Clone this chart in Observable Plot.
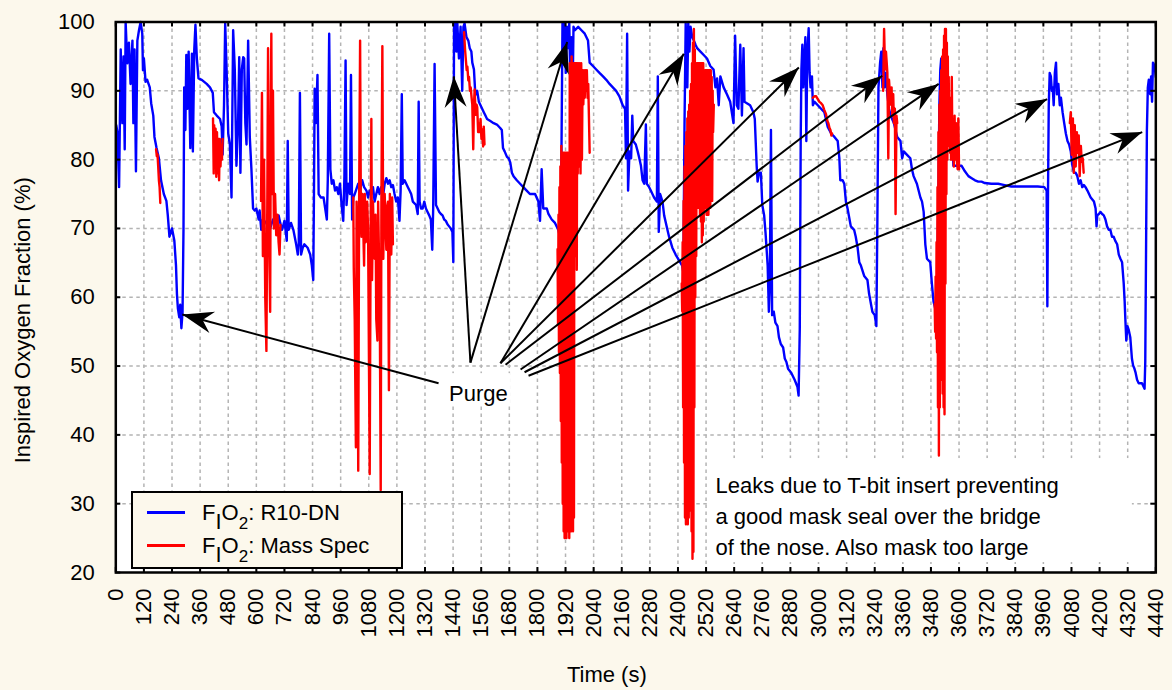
<!DOCTYPE html>
<html><head><meta charset="utf-8">
<script src="https://cdn.jsdelivr.net/npm/d3@7"></script>
<script src="https://cdn.jsdelivr.net/npm/@observablehq/plot@0.6"></script>
<style>
html,body{margin:0;padding:0;background:#FCF8EC;}
#wrap{position:relative;width:1172px;height:690px;font-family:"Liberation Sans",Arial,sans-serif;color:#000;}
#wrap svg{display:block;}
#legend{position:absolute;left:131px;top:491px;width:268px;height:74px;border:2px solid #000;background:#FCF8EC;}
.lline{position:absolute;left:14px;width:38px;height:3px;}
.ltext{position:absolute;left:69px;font-size:22px;line-height:22px;white-space:nowrap;}
.sub{position:relative;top:9px;}
.sub2{position:relative;top:9px;font-size:17px;}
</style></head>
<body><div id="wrap"></div>
<script>
// ---------- data ----------
const xTickValues = [0,120,240,360,480,600,720,840,960,1080,1200,1320,1440,1560,1680,1800,1920,2040,2160,2280,2400,2520,2640,2760,2880,3000,3120,3240,3360,3480,3600,3720,3840,3960,4080,4200,4320,4440];
const yTickValues = [20,30,40,50,60,70,80,90,100];

// FIO2 R10-DN : [time (s), FIO2 (%)]
const r10Series = [
[2,85],[7,84],[14,76],[21,96],[28,85.3],[33,95],[38,81.5],[42,100],[49,94],[56,97],[63,91],[71,97.3],[75,85.3],[80,96],[86,78.3],[92,97.3],[99,98.8],[106,100],[113,98.3],[116,93],[120,94.7],[127,91.3],[134,91.6],[145,90.5],[151,88.2],[160,86.4],[165,83.3],[174,81.7],[184,80.2],[193,77],[205,75],[216,74],[222,71.9],[229,68.8],[240,70],[250,68.2],[257,64.6],[261,60.5],[265,58.4],[271,57.1],[275,58.9],[280,55.5],[285,57.9],[289,69.8],[292,90.5],[297,84.3],[301,95.2],[306,87.4],[311,95.7],[318,81.7],[325,95.4],[329,81.2],[335,96],[340,99.6],[346,94.7],[353,91.8],[367,91.6],[388,91],[402,90.5],[414,89.7],[419,86.9],[431,86.4],[445,85.9],[452,84.8],[456,80.7],[462,87.9],[467,99.8],[473,93.1],[480,83.8],[487,82.2],[494,74.5],[501,98.8],[508,93.1],[515,79.1],[522,85.3],[527,94.9],[532,78.1],[538,93.1],[544,94.9],[548,94.7],[553,85.3],[558,82.2],[565,97.3],[572,83.3],[579,78.6],[586,72.9],[593,72.6],[600,72.9],[610,71.3],[614,72.6],[621,69.8],[628,71.3],[642,70.8],[657,69.8],[671,71.3],[685,70.3],[695,71.9],[702,70.8],[710,69.8],[720,71.1],[730,68.2],[734,82.7],[738,69.8],[748,70.8],[758,69.8],[770,67.7],[777,66.2],[781,67.7],[786,89.7],[791,66.2],[798,67.2],[805,67.7],[819,67.2],[830,66.2],[837,64.6],[843,62.5],[846,75],[849,90.3],[854,85.3],[861,92.3],[866,75],[875,74.5],
[887,74.5],[901,71.3],[905,77],[911,98.3],[916,78.6],[922,76.5],[929,77],[936,75.5],[943,76],[950,75],[957,76.5],[964,73.4],[971,71.1],[976,77.6],[981,94.4],[985,73.4],[992,76.5],[1000,75],[1004,92.3],[1009,71.3],[1014,74.5],[1020,75],[1035,76.5],[1042,75.5],[1052,77],[1060,76],[1070,75.5],[1077,74.5],[1084,75.5],[1091,75],[1098,76],[1105,73.9],[1112,75],[1119,76],[1126,75],[1133,76],[1140,74.5],[1148,76.5],[1155,77.3],[1162,76.5],[1169,77],[1176,76],[1183,76.3],[1190,75],[1197,73.9],[1204,74.5],[1211,71.1],[1216,75.5],[1221,89.5],[1225,76.5],[1233,77],[1240,76.5],[1247,76],[1254,75.5],[1261,75],[1268,73.9],[1282,73.4],[1289,72.1],[1293,88.4],[1297,73.9],[1303,72.9],[1310,72.9],[1317,73.9],[1324,72.9],[1331,72.4],[1338,71.9],[1345,71.3],[1351,66.9],[1355,72.9],[1361,93.9],[1367,73.4],[1374,72.9],[1381,72.4],[1388,72.1],[1395,71.9],[1402,71.3],[1409,71.1],[1416,70.6],[1423,70.3],[1430,70],[1437,69.5],[1441,65.1],[1444,99.3],[1448,99.8],[1454,95.7],[1458,99.8],[1465,94.7],[1472,99.3],[1479,90],[1484,99.3],[1489,99.8],[1497,97.8],[1505,97.3],[1511,96.2],[1518,95.7],[1522,94.1],[1529,93.1],[1534,90],[1539,89.5],[1543,90],[1550,88.4],[1557,87.9],[1564,87.4],[1571,86.9],[1578,86.4],[1585,85.9],[1599,85.6],[1613,85.3],[1627,85.1],[1641,84.6],[1648,84.3],[1653,81.7],[1660,81.2],[1670,80.4],[1677,80.2],[1684,79.6],[1691,78.1],[1698,77.6],[1712,77],[1726,76.5],[1740,76],[1754,75.5],[1768,75],
[1790,75],[1804,73.9],[1811,71.1],[1818,78.6],[1825,72.9],[1840,72.9],[1847,72.1],[1861,71.3],[1875,70.8],[1889,69.8],[1896,68.8],[1900,67.7],[1903,82.7],[1907,99.8],[1912,95.2],[1917,99.8],[1921,92.6],[1926,99.3],[1931,96.2],[1936,99.8],[1940,92.1],[1945,97.8],[1950,89],[1954,99.3],[1960,98.8],[1974,99.3],[1988,98.8],[2002,98.3],[2016,97.3],[2023,94.1],[2037,93.6],[2051,93.1],[2065,92.6],[2080,92.1],[2094,91.6],[2108,91],[2122,90.5],[2136,90],[2150,89.2],[2164,87.9],[2174,87.4],[2178,80.2],[2183,98.3],[2187,75.5],[2193,81.2],[2200,80.2],[2205,86.4],[2209,82.7],[2220,82.2],[2228,81.2],[2235,80.2],[2242,79.1],[2249,77],[2256,76.5],[2263,85.1],[2267,76.5],[2277,76],[2284,75.5],[2298,74.5],[2310,73.9],[2314,92.1],[2318,69.5],[2324,75],[2334,73.9],[2341,71.9],[2355,69.8],[2362,68.8],[2376,67.2],[2390,66.2],[2404,65.4],[2418,64.6],[2423,63.6],[2428,85.3],[2433,99.8],[2440,90.5],[2444,99.8],[2449,95.7],[2454,99.3],[2461,97.8],[2468,97.3],[2475,96.7],[2482,96.2],[2496,95.7],[2510,95.2],[2524,94.7],[2538,93.6],[2552,93.1],[2560,90.5],[2567,91.8],[2574,87.9],[2581,92.1],[2595,90.5],[2609,89.5],[2623,88.4],[2637,85.3],[2644,98],[2651,87.9],[2658,87.4],[2666,96.7],[2673,86.4],[2680,96.2],
[2684,88.4],[2694,88.2],[2708,87.9],[2722,86.9],[2728,85.9],[2736,79.1],[2740,76.8],[2746,78.1],[2754,78.1],[2760,73.4],[2768,71.9],[2774,69.3],[2783,64.6],[2788,57.9],[2792,61.5],[2797,84.3],[2802,57.4],[2809,57.9],[2816,56.3],[2825,55.8],[2831,54.2],[2839,53.2],[2849,52.7],[2856,51.1],[2863,50.6],[2870,49.6],[2884,49],[2898,48],[2910,47],[2915,45.7],[2920,55.3],[2924,82.7],[2927,93.1],[2931,96.7],[2935,90.5],[2940,94.7],[2944,97.8],[2948,82.7],[2952,95.2],[2958,99.1],[2962,92.6],[2966,90.5],[2972,92.1],[2976,87.9],[2983,88.4],[2997,87.9],[3011,87.4],[3025,86.9],[3039,84.8],[3054,83.8],[3068,83.3],[3082,82.7],[3089,80.2],[3093,77],[3103,77],[3110,76.5],[3117,73.9],[3124,72.9],[3138,70.3],[3152,69.8],[3159,68.8],[3167,67.2],[3174,65.1],[3181,64.6],[3195,63.1],[3209,62.5],[3216,60.5],[3230,57.9],[3240,57.4],[3247,55.8],[3251,69.8],[3256,90.5],[3263,94.1],[3268,95.7],[3273,90.5],[3277,96.2],[3282,90.5],[3288,92.6],[3294,89.5],[3301,87.4],[3308,86.4],[3322,85.3],[3336,83.3],[3350,82.7],[3357,80.2],[3364,81.2],[3378,80.7],[3392,80.2],[3399,78.6],[3406,77.6],[3420,76.5],[3435,74.5],[3442,73.9],[3449,72.4],[3456,67.7],[3463,65.6],[3477,65.1],[3484,62],[3491,59.4],[3498,58.4],[3505,57.9],[3512,75],[3516,88],[3520,93.1],[3524,94.7],[3530,90.5],[3540,90.5],[3548,87.9],[3555,86],[3562,82.7],[3569,83.5],[3576,79.1],
[3597,79.1],[3611,79.1],[3625,78.3],[3640,77.6],[3654,77.3],[3668,77],[3682,76.8],[3696,76.8],[3710,76.6],[3738,76.5],[3767,76.5],[3795,76.3],[3823,76.1],[3851,76.1],[3880,76.1],[3908,76.1],[3936,76.1],[3964,76],[3974,75.5],[3977,58.7],[3980,76],[3983,87.9],[3987,92.6],[3992,92.1],[3996,90],[4000,90.5],[4004,87.9],[4009,92.6],[4014,94.1],[4018,89.5],[4024,91],[4030,87.9],[4035,89],[4042,86.9],[4049,85.3],[4056,83.8],[4063,82.7],[4070,82.2],[4077,81.2],[4084,79.1],[4091,78.1],[4098,78.1],[4105,77.6],[4112,76.5],[4119,77],[4126,76],[4133,76.3],[4140,76],[4148,75.5],[4155,75],[4162,74.5],[4169,74.2],[4176,73.9],[4183,72.9],[4187,70.3],[4190,71.9],[4197,72.1],[4204,72.4],[4211,72.1],[4218,71.9],[4225,71.3],[4232,70.3],[4239,69.8],[4246,69.8],[4253,68.8],[4260,68.8],[4267,68.2],[4275,67.7],[4282,66.2],[4289,65.6],[4296,65.1],[4303,62],[4307,59.4],[4310,56.8],[4314,53.7],[4319,55.8],[4324,55.3],[4331,54.2],[4338,51.1],[4343,50.1],[4349,49.6],[4354,49],[4360,48],[4367,47.5],[4374,47.5],[4381,47.5],[4388,47],[4392,46.7],[4395,50.6],[4399,69.8],[4402,84.3],[4406,90.5],[4410,91.6],[4416,89.5],[4420,92.1],[4424,88.4],[4428,94.1],[4435,93.6],[4440,92]
];

// FIO2 Mass Spec : [time (s), FIO2 (%)], null = no reading
const massSpecSeries = [
[172,81.5],[175,80.5],[178,80.8],[181,79],[184,77],[187,76],[190,73.7],[191,null],
[415,86],[418,78],[420,85],[423,79],[426,84.5],[429,77.5],[432,84],[435,78],[438,83],[441,77],[444,83],[447,79],[450,82],[453,80],[456,83],[457,null],
[620,74],[624,89.7],[628,66],[633,80],[638,60],[643,52.2],[647,75],[650,96.2],[654,70],[659,57.9],[662,88],[664,98.3],[667,75],[671,90],[675,70],[680,75],[685,69],[690,72],[695,68],[699,66.2],[703,70.5],[704,null],
[1014,74.5],[1016,64.1],[1020,56.8],[1025,38.2],[1028,73.9],[1031,69.8],[1035,34.8],[1039,75],[1043,97.3],[1046,73.9],[1049,68.8],[1053,75],[1056,70.8],[1060,64.6],[1063,75],[1067,68],[1070,69.8],[1073,73.9],[1077,70],[1084,34.3],[1088,69.8],[1091,85.9],[1094,62.5],[1098,73.9],[1102,68],[1105,65.6],[1109,72],[1112,56.8],[1117,53.7],[1120,73.9],[1127,58.4],[1131,32],[1134,74.5],[1138,96.5],[1142,65.6],[1145,73],[1148,75],[1152,70],[1155,66.9],[1158,73],[1162,73.9],[1166,46.5],[1170,75],[1173,70],[1176,66.2],[1180,74.5],[1183,67.7],[1184,null],
[1487,98.5],[1491,96],[1494,94.7],[1498,93],[1501,93.5],[1505,91.5],[1508,92],[1512,90],[1515,90.5],[1519,89],[1522,88],[1526,81.5],[1529,88],[1532,90.2],[1536,86.5],[1540,88],[1543,87.6],[1547,84],[1550,85.3],[1554,84],[1557,85.9],[1561,83],[1564,84.4],[1568,81.9],[1571,84.8],[1574,82.2],[1575,null],
[1886,67],[1888,56],[1890,72],[1892,52],[1894,76],[1896,49],[1898,79],[1900,42],[1902,82],[1904,36],[1906,81],[1908,30],[1910,81],[1912,26],[1914,81],[1916,25],[1918,81],[1920,26],[1922,81],[1924,25],[1926,81],[1928,27],[1930,81],[1932,26],[1934,81],[1936,25],[1938,94],[1940,27],[1942,94],[1944,26],[1946,95],[1948,27],[1950,94],[1952,26],[1954,94],[1956,28],[1958,94],[1960,70],[1962,94],[1964,66],[1966,94],[1968,64],[1970,94],[1972,78],[1975,94],[1978,79],[1981,94],[1984,78],[1987,94],[1990,80],[1993,93],[1996,88],[1999,93],[2002,89],[2005,93],[2008,90],[2011,93],[2014,89],[2017,91],[2020,86],[2023,81],[2024,null],
[2416,62],[2418,58],[2420,68],[2422,44],[2424,74],[2426,36],[2428,79],[2430,28],[2432,82],[2434,27],[2436,84],[2438,28],[2440,86],[2442,27],[2444,87],[2446,28],[2448,88],[2450,29],[2452,90],[2454,31],[2456,91],[2458,26],[2460,94],[2462,22],[2464,97],[2466,23],[2468,99],[2470,44],[2472,96],[2474,60],[2476,94],[2478,66],[2480,94],[2482,75],[2484,94],[2486,73],[2488,94],[2490,73],[2492,94],[2494,72],[2496,94],[2498,71],[2500,94],[2502,68],[2504,94],[2506,69],[2508,94],[2510,71],[2512,93],[2514,73],[2516,93],[2518,74],[2520,93],[2522,72],[2524,93],[2526,72],[2528,93],[2530,72],[2532,93],[2534,73],[2536,93],[2538,73],[2540,93],[2542,74],[2544,92],[2546,74],[2548,90],[2550,84],[2553,88],[2554,null],
[2976,89],[2983,89.2],[2990,89.2],[2997,88.8],[3004,88.4],[3011,88.2],[3018,87.9],[3025,87.2],[3032,86.6],[3038,85.6],[3042,85.3],[3047,84.6],[3051,84.3],[3055,83.5],[3058,83.8],[3059,null],
[3276,90],[3280,99],[3284,93.1],[3288,95.7],[3294,92.6],[3298,80.2],[3301,91.6],[3308,88],[3312,90.5],[3315,86.4],[3319,89.5],[3322,85.3],[3326,87.4],[3329,72.1],[3333,86.4],[3336,85.3],[3337,null],
[3496,59],[3498,55],[3500,63],[3502,54],[3504,68],[3506,52],[3508,76],[3510,44],[3512,84],[3514,37],[3516,88],[3518,44],[3520,90],[3522,48],[3524,93],[3526,51],[3528,95],[3530,46],[3532,96],[3534,44],[3536,98],[3538,43],[3540,99],[3542,62],[3544,99],[3546,75],[3548,97],[3550,80],[3552,95],[3554,82],[3556,92],[3558,82],[3560,89],[3562,81],[3564,88],[3566,80],[3569,92],[3572,80],[3575,85],[3578,79],[3581,86.4],[3584,80],[3587,85.3],[3590,80.2],[3594,78.6],[3597,86],[3600,78.6],[3601,null],
[4073,85.3],[4077,86.9],[4081,80.7],[4086,86],[4090,78.1],[4094,85],[4098,79],[4103,84],[4107,81],[4111,83.5],[4115,77.6],[4120,82],[4124,79.7],[4128,80.2],[4132,78.1]
];

// "Purge" arrows: tail (x1,y1) -> head (x2,y2) in data units
const purgeArrows = [
 {x1:1378,y1:47.5,x2:284,y2:57.5},
 {x1:1514,y1:50.5,x2:1443,y2:92.1},
 {x1:1514,y1:50.5,x2:1927,y2:97.1},
 {x1:1642,y1:50.4,x2:2425,y2:95.4},
 {x1:1642,y1:50.4,x2:2916,y2:93.4},
 {x1:1664,y1:50.2,x2:3272,y2:92.2},
 {x1:1728,y1:49.5,x2:3513,y2:91.0},
 {x1:1745,y1:49.1,x2:3976,y2:88.8},
 {x1:1762,y1:48.6,x2:4382,y2:84.0}
];
const purgeLabel = [{x:1548,y:46.0,text:"Purge"}];
const purgeBox = [{x1:1407,x2:1685,y1:44.3,y2:48.9}];
const noteLabel = [{x:2560,y:34.7,text:"Leaks due to T-bit insert preventing\na good mask seal over the bridge\nof the nose. Also mask too large"}];
const noteBox = [{x1:2526,x2:4340,y1:21.45,y2:36.56}];

// ---------- layout ----------
const W = 1172, H = 690;
const mL = 115.3, mR = 16.7, mT = 21.5, mB = 118;
const plotW = W - mL - mR, plotH = H - mT - mB;
const xs = d3.scaleLinear([0, 4440], [mL, W - mR]);
const ys = d3.scaleLinear([20, 100], [H - mB, mT]);
const headAngle = d => Math.atan2(xs(d.x2) - xs(d.x1), -(ys(d.y2) - ys(d.y1))) * 180 / Math.PI;

const arrowHead = {
  draw(context, size) {
    const s = Math.sqrt(size / Math.PI);
    context.moveTo(0, 0);
    context.lineTo(11 * s, 31 * s);
    context.lineTo(0, 21 * s);
    context.lineTo(-11 * s, 31 * s);
    context.closePath();
  }
};

const gridStyle = {stroke: "#b4b4b4", strokeOpacity: 1, strokeWidth: 1.5, strokeDasharray: "3.5,3.5"};
const innerTicksX = xTickValues.slice(1, -1);
const innerTicksY = yTickValues.slice(1, -1);

const plot = Plot.plot({
  width: W, height: H,
  marginLeft: mL, marginRight: mR, marginTop: mT, marginBottom: mB,
  x: {domain: [0, 4440]},
  y: {domain: [20, 100]},
  style: {background: "transparent", fontFamily: "'Liberation Sans', Arial, sans-serif", fontSize: "22px", color: "black", overflow: "visible"},
  marks: [
    Plot.frame({fill: "white", stroke: null}),
    Plot.gridX(innerTicksX, gridStyle),
    Plot.gridY(innerTicksY, gridStyle),
    Plot.rect(noteBox, {x1: "x1", x2: "x2", y1: "y1", y2: "y2", fill: "white"}),
    Plot.rect(purgeBox, {x1: "x1", x2: "x2", y1: "y1", y2: "y2", fill: "white"}),
    Plot.line(r10Series, {x: d => d[0], y: d => d[1], stroke: "#0000FF", strokeWidth: 2.4}),
    Plot.line(massSpecSeries, {x: d => d[0], y: d => d[1], stroke: "#FF0000", strokeWidth: 2.4}),
    Plot.link(purgeArrows, {x1: "x1", y1: "y1", x2: "x2", y2: "y2", stroke: "black", strokeWidth: 2}),
    Plot.dot(purgeArrows, {x: "x2", y: "y2", symbol: arrowHead, r: 1, fill: "black", stroke: null, rotate: headAngle}),
    Plot.text(purgeLabel, {x: "x", y: "y", text: "text", fontSize: 22, fill: "black"}),
    Plot.text(noteLabel, {x: "x", y: "y", text: "text", fontSize: 22, fill: "black", textAnchor: "start", lineAnchor: "top", lineHeight: 1.41}),
    Plot.ruleX(xTickValues, {x: d => d, insetTop: plotH - 5, stroke: "black", strokeWidth: 2}),
    Plot.ruleX(xTickValues, {x: d => d, insetBottom: plotH - 5, stroke: "black", strokeWidth: 2}),
    Plot.ruleY(yTickValues, {y: d => d, insetRight: plotW - 5, stroke: "black", strokeWidth: 2}),
    Plot.ruleY(yTickValues, {y: d => d, insetLeft: plotW - 5, stroke: "black", strokeWidth: 2}),
    Plot.frame({stroke: "black", strokeWidth: 2.5}),
    Plot.axisX(xTickValues, {tickSize: 0, tickPadding: 16, tickRotate: -90, tickFormat: d => String(d), fontSize: 22, label: null, fill: "black"}),
    Plot.axisY(yTickValues, {tickSize: 0, tickPadding: 21, tickFormat: d => String(d), fontSize: 22, label: null, fill: "black"}),
    Plot.text(["Time (s)"], {frameAnchor: "bottom", textAnchor: "middle", lineAnchor: "middle", dx: -29, dy: 102, fontSize: 22, fill: "black"}),
    Plot.text(["Inspired Oxygen Fraction (%)"], {frameAnchor: "left", textAnchor: "middle", lineAnchor: "middle", rotate: -90, dx: -93, dy: 23, fontSize: 22, fill: "black"})
  ]
});

const wrap = document.getElementById("wrap");
wrap.appendChild(plot);

// legend (inside the plot area, as in the reference)
const legendItems = [
  {color: "#0000FF", name: "R10-DN"},
  {color: "#FF0000", name: "Mass Spec"}
];
const legend = document.createElement("div");
legend.id = "legend";
legendItems.forEach((item, i) => {
  const line = document.createElement("div");
  line.className = "lline";
  line.style.background = item.color;
  line.style.top = (18 + i * 32.6) + "px";
  legend.appendChild(line);
  const txt = document.createElement("div");
  txt.className = "ltext";
  txt.style.top = (9 + i * 32.6) + "px";
  txt.innerHTML = 'F<span class="sub">I</span>O<span class="sub2">2</span>: ' + item.name;
  legend.appendChild(txt);
});
wrap.appendChild(legend);
</script>
</body></html>
